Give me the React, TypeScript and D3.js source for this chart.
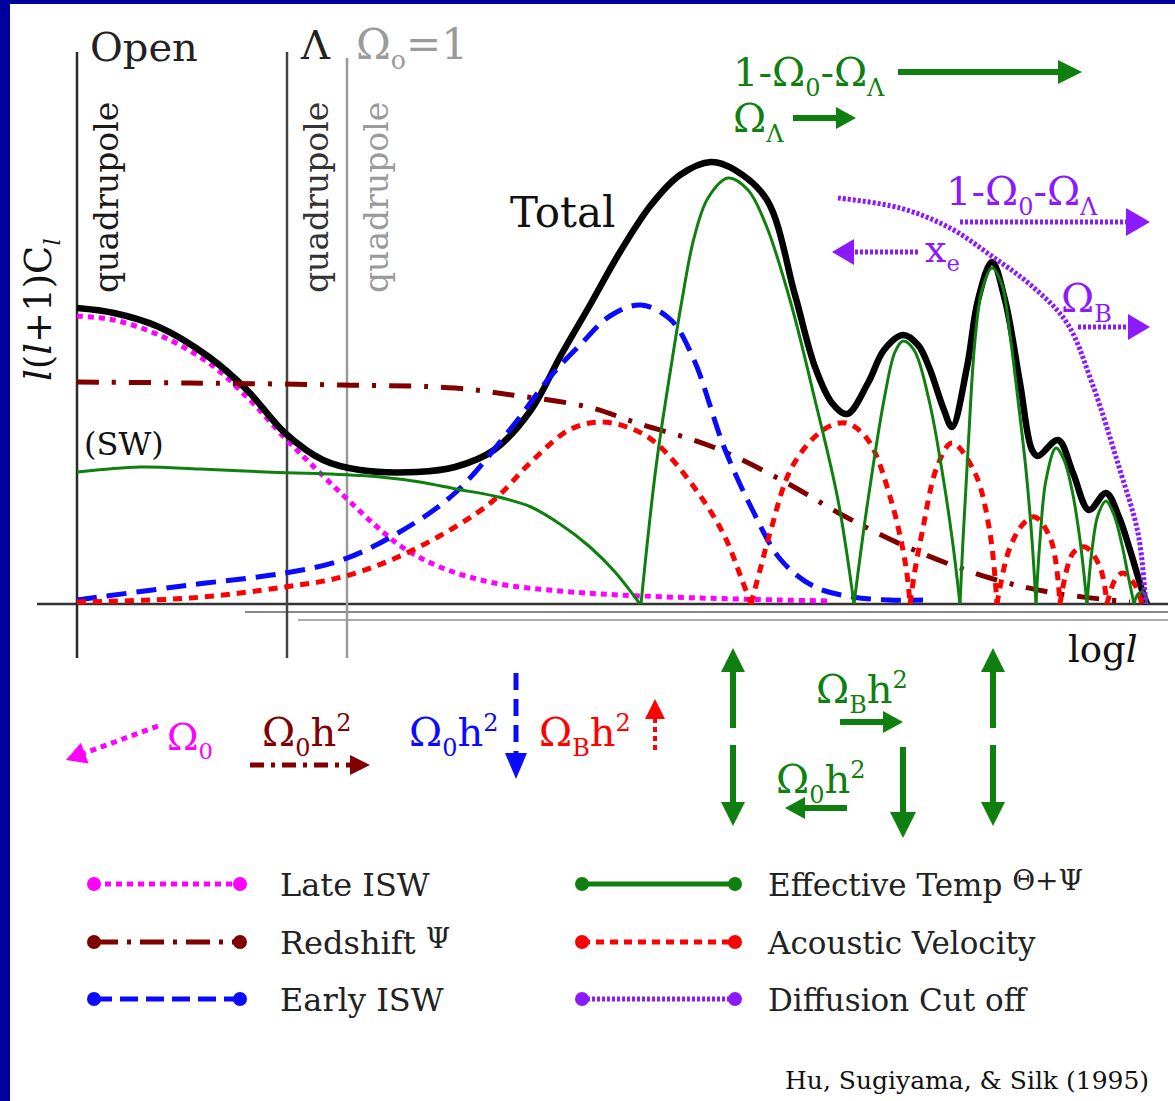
import React, { useEffect, useRef } from 'react';
import * as d3 from 'd3';

type Pt = [number, number];

// x: log l (arbitrary units, 0 = quadrupole of the open model), y: l(l+1)C_l (arbitrary units)
const totalPower: Pt[] = [
    [0, 296], [37, 291], [82, 277], [132, 247], [170, 214], [208, 171], [246, 144], [283, 134],
    [340, 132], [378, 137], [417, 154], [454, 194], [483, 247], [513, 299], [543, 352], [574, 399],
    [603, 429], [634, 442], [658, 434], [690, 404], [718, 309], [738, 237], [755, 201], [770, 190],
    [791, 221], [807, 254], [826, 269], [841, 259], [852, 237], [867, 194], [875, 177], [890, 237],
    [901, 304], [915, 342], [928, 304], [943, 221], [955, 154], [961, 148], [981, 164], [996, 131],
    [1012, 94], [1029, 111], [1042, 87], [1053, 54], [1065, 14], [1070, 0],
];

const sachsWolfe: Pt[] = [
    [0, 132], [63, 137], [123, 135], [189, 132], [253, 130], [303, 127], [343, 122], [379, 115],
    [417, 108], [454, 97], [483, 80], [513, 57], [538, 32], [563, 0],
];

const effTempArches: Pt[][] = [
    [[564, 0], [579, 137], [594, 237], [605, 304], [617, 366], [631, 406], [651, 426], [671, 414], [689, 379], [713, 304], [738, 204], [761, 104], [777, 0]],
    [[777, 0], [784, 54], [791, 104], [807, 204], [818, 252], [826, 263], [837, 254], [852, 204], [867, 121], [876, 59], [883, 0]],
    [[883, 0], [886, 64], [891, 154], [898, 264], [905, 314], [915, 336], [925, 319], [933, 269], [941, 204], [949, 134], [955, 64], [959, 0]],
    [[959, 0], [963, 64], [969, 124], [979, 156], [987, 144], [995, 114], [1003, 64], [1010, 0]],
    [[1010, 0], [1015, 54], [1021, 89], [1029, 103], [1037, 89], [1045, 59], [1051, 29], [1057, 0]],
    [[1057, 0], [1061, 10], [1066, 12], [1070, 0]],
];

const lateISW: Pt[] = [
    [0, 288], [37, 284], [82, 269], [132, 241], [170, 207], [208, 166], [237, 137], [268, 107],
    [298, 79], [325, 57], [363, 37], [417, 21], [483, 13], [543, 9], [623, 6], [703, 4], [753, 3],
];

const earlyISW: Pt[] = [
    [0, 4], [113, 19], [208, 31], [265, 44], [321, 71], [378, 111], [435, 177], [473, 227],
    [503, 259], [533, 288], [564, 299], [594, 284], [617, 244], [647, 157], [674, 97], [704, 44],
    [738, 17], [776, 7], [813, 4], [846, 4],
];

const acousticArches: Pt[][] = [
    [[0, 2], [113, 6], [208, 17], [265, 27], [321, 47], [378, 77], [417, 104], [454, 142], [492, 174], [522, 182], [553, 176], [579, 161], [617, 117], [647, 69], [665, 24], [674, 0]],
    [[674, 0], [683, 34], [693, 71], [715, 137], [746, 174], [769, 181], [791, 164], [814, 104], [829, 37], [833, 0]],
    [[833, 0], [838, 34], [845, 71], [860, 137], [875, 161], [898, 131], [913, 71], [920, 0]],
    [[920, 0], [932, 54], [947, 81], [958, 87], [974, 64], [983, 0]],
    [[983, 0], [996, 51], [1008, 57], [1023, 37], [1030, 0]],
    [[1030, 0], [1038, 24], [1046, 31], [1058, 19], [1065, 0]],
];

const redshift: Pt[] = [
    [0, 222], [113, 221], [265, 219], [378, 216], [435, 209], [511, 197], [560, 181], [636, 157],
    [708, 122], [769, 87], [837, 54], [913, 26], [977, 11], [1053, 2],
];

const diffusion: Pt[] = [
    [761, 406], [823, 396], [873, 376], [916, 347], [956, 317], [990, 281], [1015, 221], [1042, 137],
    [1061, 71], [1068, 11], [1069, 0],
];

// quadrupole positions of the three models
const quadrupoleAt = [0, 210, 270];

const legendLeft = ['Late ISW', 'Redshift ', 'Early ISW'];
const legendRight = ['Effective Temp ', 'Acoustic Velocity', 'Diffusion Cut off'];

const SERIF = '"DejaVu Serif", "Liberation Serif", serif';
const MAGENTA = '#ff00ff';
const MAROON = '#800000';
const BLUE = '#0a0aff';
const RED = '#ff0000';
const GREEN = '#0f800f';
const PURPLE = '#8c1aff';

type Part = { t: string; sub?: boolean; sup?: boolean; it?: boolean };

const App: React.FC = () => {
    const svgRef = useRef<SVGSVGElement | null>(null);

    useEffect(() => {
        document.body.style.margin = '0';
        const width = 1175;
        const height = 1101;
        const svg = d3.select(svgRef.current);
        svg.selectAll('*').remove();

        svg.append('rect').attr('width', width).attr('height', height).attr('fill', '#00009c');
        svg.append('rect').attr('x', 10).attr('y', 4).attr('width', width - 10).attr('height', height - 4).attr('fill', '#fff');

        const x = d3.scaleLinear().domain([0, 1070]).range([77, 1147]);
        const y = d3.scaleLinear().domain([0, 450]).range([604, 154]);

        const g = svg.append('g');

        const line = d3.line<Pt>()
            .x(d => x(d[0]))
            .y(d => y(d[1]))
            .curve(d3.curveCatmullRom.alpha(0.5));

        const drawPath = (pts: Pt[], color: string, w: number, dash?: string) =>
            g.append('path')
                .attr('d', line(pts))
                .attr('fill', 'none')
                .attr('stroke', color)
                .attr('stroke-width', w)
                .attr('stroke-dasharray', dash ?? null)
                .attr('stroke-linejoin', 'round');

        const rich = (px: number, py: number, parts: Part[], size: number, color: string, transform?: string) => {
            const t = g.append('text')
                .attr('x', px).attr('y', py)
                .attr('font-family', SERIF)
                .attr('font-size', size)
                .attr('fill', color);
            if (transform) t.attr('transform', transform);
            let shift = 0;
            parts.forEach(p => {
                const target = p.sub ? size * 0.24 : p.sup ? -size * 0.38 : 0;
                const ts = t.append('tspan').text(p.t).attr('dy', target - shift);
                shift = target;
                if (p.sub || p.sup) ts.attr('font-size', size * 0.6);
                if (p.it) ts.attr('font-style', 'italic');
            });
            return t;
        };

        const arrow = (x1: number, y1: number, x2: number, y2: number, color: string, w: number,
            dash: string | null, hl: number, hw: number) => {
            const L = Math.hypot(x2 - x1, y2 - y1);
            const ux = (x2 - x1) / L, uy = (y2 - y1) / L;
            const bx = x2 - ux * hl, by = y2 - uy * hl;
            g.append('line')
                .attr('x1', x1).attr('y1', y1).attr('x2', bx + ux).attr('y2', by + uy)
                .attr('stroke', color).attr('stroke-width', w)
                .attr('stroke-dasharray', dash);
            g.append('path')
                .attr('d', `M${x2},${y2}L${bx - uy * hw},${by + ux * hw}L${bx + uy * hw},${by - ux * hw}Z`)
                .attr('fill', color);
        };

        // baseline and offsets
        g.append('line').attr('x1', 37).attr('x2', 1168).attr('y1', y(0)).attr('y2', y(0))
            .attr('stroke', '#333').attr('stroke-width', 2.5);
        g.append('line').attr('x1', 245).attr('x2', 1168).attr('y1', y(0) + 8).attr('y2', y(0) + 8)
            .attr('stroke', '#888').attr('stroke-width', 2);
        g.append('line').attr('x1', 298).attr('x2', 1168).attr('y1', y(0) + 16).attr('y2', y(0) + 16)
            .attr('stroke', '#aaa').attr('stroke-width', 2);

        // quadrupole lines
        const qColors = ['#2a2a2a', '#444', '#9a9a9a'];
        quadrupoleAt.forEach((q, i) => {
            g.append('line').attr('x1', x(q)).attr('x2', x(q)).attr('y1', i === 2 ? 58 : 52).attr('y2', 658)
                .attr('stroke', qColors[i]).attr('stroke-width', 2.5);
            g.append('text')
                .attr('transform', `translate(${x(q) + 41},293) rotate(-90)`)
                .attr('font-family', SERIF).attr('font-size', 33)
                .attr('fill', i === 2 ? '#9a9a9a' : i === 1 ? '#333' : '#1a1a1a')
                .text('quadrupole');
        });

        g.append('text').attr('x', 90).attr('y', 61).attr('font-family', SERIF).attr('font-size', 40)
            .attr('fill', '#222').text('Open');
        g.append('text').attr('x', 301).attr('y', 59).attr('font-family', SERIF).attr('font-size', 40)
            .attr('fill', '#222').text('Λ');
        rich(356, 59, [{ t: 'Ω' }, { t: 'o', sub: true }, { t: '=1' }], 42, '#9a9a9a');

        // y label
        rich(0, 0, [{ t: 'l', it: true }, { t: '(' }, { t: 'l', it: true }, { t: '+1)C' }, { t: 'l', it: true, sub: true }],
            37, '#111', 'translate(51,381) rotate(-90)');

        // curves
        drawPath(lateISW, MAGENTA, 5, '6 5');
        drawPath(totalPower, '#000', 6.5);
        drawPath(redshift, MAROON, 5, '22 13 4 13');
        drawPath(earlyISW, BLUE, 5, '20 10');
        acousticArches.forEach(a => drawPath(a, RED, 5, '9 7'));
        drawPath(sachsWolfe, GREEN, 3);
        effTempArches.forEach(a => drawPath(a, GREEN, 3));
        drawPath(diffusion, PURPLE, 5, '3 2');

        // labels in plot
        g.append('text').attr('x', 510).attr('y', 227).attr('font-family', SERIF).attr('font-size', 42)
            .attr('fill', '#111').text('Total');
        g.append('text').attr('x', 84).attr('y', 455).attr('font-family', SERIF).attr('font-size', 32)
            .attr('fill', '#111').text('(SW)');
        rich(1068, 662, [{ t: 'log' }, { t: 'l', it: true }], 37, '#111');

        // top annotations
        rich(733, 86, [{ t: '1-Ω' }, { t: '0', sub: true }, { t: '-Ω' }, { t: 'Λ', sub: true }], 40, GREEN);
        arrow(898, 72, 1082, 72, GREEN, 6, null, 24, 12);
        rich(733, 132, [{ t: 'Ω' }, { t: 'Λ', sub: true }], 40, GREEN);
        arrow(793, 118, 856, 118, GREEN, 6, null, 20, 11);

        rich(946, 205, [{ t: '1-Ω' }, { t: '0', sub: true }, { t: '-Ω' }, { t: 'Λ', sub: true }], 40, PURPLE);
        arrow(960, 222, 1150, 222, PURPLE, 5, '3 2', 24, 14);
        arrow(918, 252, 832, 252, PURPLE, 5, '3 2', 22, 13);
        rich(925, 262, [{ t: 'x' }, { t: 'e', sub: true }], 38, PURPLE);
        rich(1061, 312, [{ t: 'Ω' }, { t: 'B', sub: true }], 40, PURPLE);
        arrow(1078, 327, 1150, 327, PURPLE, 5, '3 2', 22, 13);

        // bottom annotations
        arrow(158, 726, 66, 760, MAGENTA, 5, '6 5', 20, 11);
        rich(167, 750, [{ t: 'Ω' }, { t: '0', sub: true }], 38, MAGENTA);
        rich(262, 746, [{ t: 'Ω' }, { t: '0', sub: true }, { t: 'h' }, { t: '2', sup: true }], 40, MAROON);
        arrow(250, 765, 370, 765, MAROON, 5, '14 7 4 7', 20, 10);
        rich(409, 746, [{ t: 'Ω' }, { t: '0', sub: true }, { t: 'h' }, { t: '2', sup: true }], 40, BLUE);
        arrow(516, 673, 516, 779, BLUE, 5, '17 9', 26, 11);
        rich(539, 746, [{ t: 'Ω' }, { t: 'B', sub: true }, { t: 'h' }, { t: '2', sup: true }], 40, RED);
        arrow(655, 750, 655, 699, RED, 4, '5 4', 20, 10);

        [733, 993].forEach(ax => {
            arrow(ax, 728, ax, 648, GREEN, 6, null, 24, 12);
            arrow(ax, 745, ax, 826, GREEN, 6, null, 24, 12);
        });
        rich(816, 703, [{ t: 'Ω' }, { t: 'B', sub: true }, { t: 'h' }, { t: '2', sup: true }], 40, GREEN);
        arrow(840, 722, 903, 722, GREEN, 6, null, 20, 11);
        arrow(903, 747, 903, 838, GREEN, 6, null, 26, 13);
        rich(776, 793, [{ t: 'Ω' }, { t: '0', sub: true }, { t: 'h' }, { t: '2', sup: true }], 40, GREEN);
        arrow(847, 808, 785, 808, GREEN, 6, null, 20, 11);

        // legend
        const rows = [884, 942, 999];
        const leftStyle = [
            { c: MAGENTA, d: '6 5' },
            { c: MAROON, d: '24 9 4 9' },
            { c: BLUE, d: '18 8' },
        ];
        const rightStyle = [
            { c: GREEN, d: null },
            { c: RED, d: '8 6' },
            { c: PURPLE, d: '3 2' },
        ];
        const legendLine = (x1: number, x2: number, yy: number, c: string, d: string | null) => {
            g.append('line').attr('x1', x1).attr('x2', x2).attr('y1', yy).attr('y2', yy)
                .attr('stroke', c).attr('stroke-width', 5).attr('stroke-dasharray', d);
            [x1, x2].forEach(cx => g.append('circle').attr('cx', cx).attr('cy', yy).attr('r', 7).attr('fill', c));
        };
        legendLeft.forEach((lab, i) => {
            legendLine(94, 240, rows[i], leftStyle[i].c, leftStyle[i].d);
            const t = g.append('text').attr('x', 280).attr('y', rows[i] + 12)
                .attr('font-family', SERIF).attr('font-size', 32).attr('fill', '#222').text(lab);
            if (i === 1) t.append('tspan').attr('dy', -6).attr('font-size', 28).text('Ψ');
        });
        legendRight.forEach((lab, i) => {
            legendLine(582, 735, rows[i], rightStyle[i].c, rightStyle[i].d);
            const t = g.append('text').attr('x', 768).attr('y', rows[i] + 12)
                .attr('font-family', SERIF).attr('font-size', 31).attr('fill', '#222').text(lab);
            if (i === 0) t.append('tspan').attr('dy', -6).attr('font-size', 28).text('Θ+Ψ');
        });

        g.append('text').attr('x', 785).attr('y', 1089).attr('font-family', SERIF).attr('font-size', 25)
            .attr('fill', '#111').text('Hu, Sugiyama, & Silk (1995)');
    }, []);

    return <svg ref={svgRef} width={1175} height={1101} style={{ display: 'block' }} />;
};

export default App;
